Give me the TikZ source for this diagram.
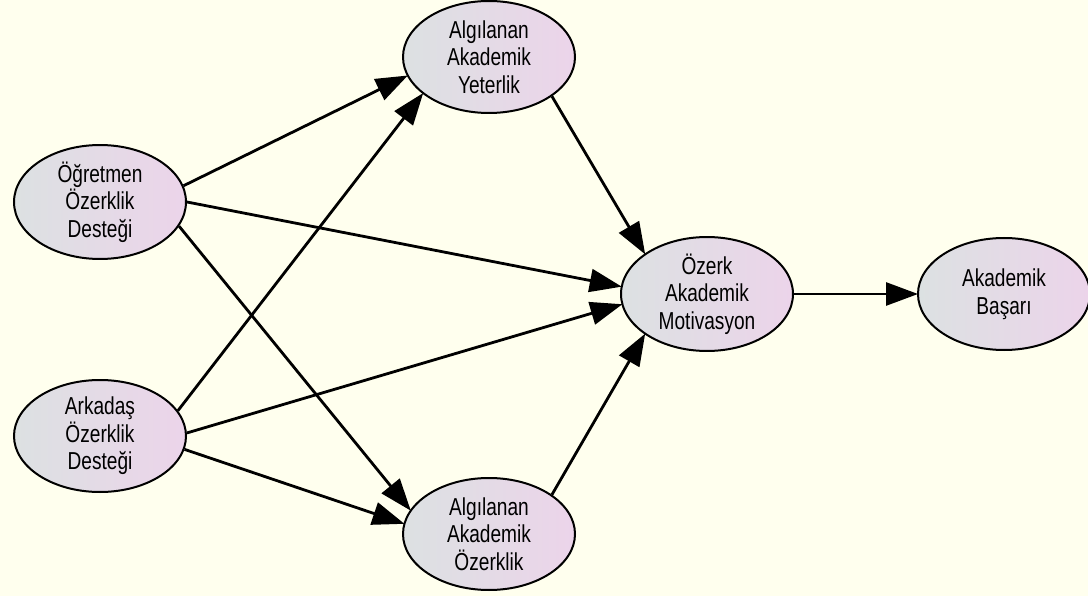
\documentclass[tikz,border=0pt]{standalone}
\usepackage{fontspec}
\setmainfont{Liberation Sans}
\newfontfamily\narrowfont[FakeStretch=0.78]{Liberation Sans}
\usetikzlibrary{shapes.geometric,arrows.meta}
\definecolor{bgc}{RGB}{255,255,238}
\definecolor{lc}{RGB}{220,225,226}
\definecolor{rc}{RGB}{236,212,234}
\tikzset{
  var/.style={ellipse, draw=black, line width=2pt, minimum width=172pt, minimum height=112pt,
    inner sep=0pt, left color=lc, right color=rc, align=center,
    font=\narrowfont\fontsize{24.5}{27.5}\selectfont},
  link/.style={line width=2.8pt, -{Triangle[length=32pt,width=23pt]}, shorten >=-1pt}
}
\begin{document}
\begin{tikzpicture}[x=1pt,y=-1pt]
\fill[bgc] (0,0) rectangle (1088,596);
\useasboundingbox (0,0) rectangle (1088,596);
\node[var] (og) at (100,202) {Öğretmen\\Özerklik\\Desteği};
\node[var] (ar) at (100,436) {Arkadaş\\Özerklik\\Desteği};
\node[var] (ye) at (489,57) {Algılanan\\Akademik\\Yeterlik};
\node[var] (oz) at (489,534) {Algılanan\\Akademik\\Özerklik};
\node[var] (mo) at (707,294) {Özerk\\Akademik\\Motivasyon};
\node[var] (ba) at (1004,294) {Akademik\\Başarı};
\draw[link] (og.11) -- (ye.193);
\draw[link] (og.0) -- (mo.175);
\draw[link] (og.-17) -- (oz.163);
\draw[link] (ar.18) -- (ye.209);
\draw[link] (ar.2) -- (mo.187);
\draw[link] (ar.-9) -- (oz.173);
\draw[link] (ye.-32) -- (mo.147);
\draw[link] (oz.32) -- (mo.213);
\draw[link] (mo) -- (ba);
\end{tikzpicture}
\end{document}
